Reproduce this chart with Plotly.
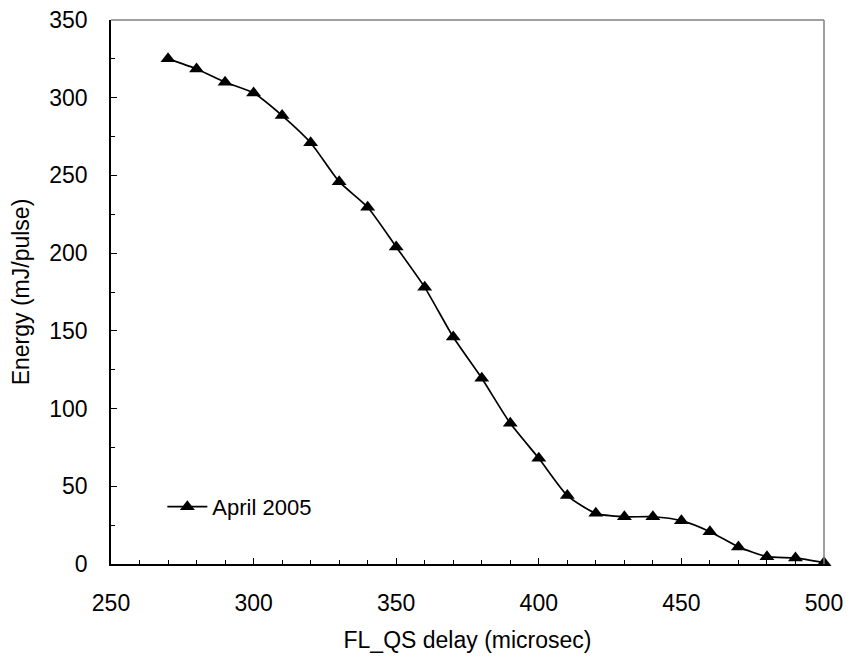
import plotly.graph_objects as go

# FL_QS delay (microseconds) and measured pulse energy (mJ/pulse)
delay_us = [270, 280, 290, 300, 310, 320, 330, 340, 350, 360, 370, 380,
            390, 400, 410, 420, 430, 440, 450, 460, 470, 480, 490, 500]
energy_mj = [325, 318.5, 310, 303, 288.5, 271, 246, 229.5, 204, 178, 146, 119.5,
             90.5, 68, 44, 32.6, 30.4, 30.4, 27.9, 20.8, 11, 4.7, 3.9, 0.8]

series_name = "April 2005"
font_family = "Liberation Sans, Arial, sans-serif"
fs = 23

fig = go.Figure()
fig.add_trace(go.Scatter(
    x=delay_us, y=energy_mj, name=series_name,
    mode="lines+markers",
    line=dict(color="black", width=1.7, shape="spline", smoothing=0.6),
    marker=dict(symbol="triangle-up", size=13, color="black"),
    cliponaxis=False,
))

axis_common = dict(
    showline=True, linecolor="black", linewidth=1.5,
    ticks="inside", ticklen=6, tickcolor="black", tickwidth=1,
    showgrid=False, zeroline=False, automargin=False,
    tickfont=dict(size=fs, color="black", family=font_family),
)

fig.update_xaxes(
    range=[250, 500], dtick=50, tick0=250,
    minor=dict(dtick=10, ticks="inside", ticklen=4, tickcolor="black"),
    title=dict(text="FL_QS delay (microsec)", font=dict(size=fs, color="black", family=font_family), standoff=17),
    ticklabelstandoff=18,
    **axis_common,
)
fig.update_yaxes(
    range=[0, 350], dtick=50, tick0=0,
    minor=dict(dtick=25, ticks="inside", ticklen=4, tickcolor="black"),
    title=dict(text="Energy (mJ/pulse)", font=dict(size=fs, color="black", family=font_family), standoff=13),
    ticklabelstandoff=17,
    **axis_common,
)

# thin grey frame along the top and right of the plotting area
fig.add_shape(type="line", xref="paper", yref="paper", x0=0, x1=1, y0=1, y1=1,
              line=dict(color="#808080", width=1.5))
fig.add_shape(type="line", xref="paper", yref="paper", x0=1, x1=1, y0=0, y1=1,
              line=dict(color="#808080", width=1.5))

fig.update_layout(
    width=851, height=659,
    margin=dict(l=111, r=27, t=20, b=95),
    plot_bgcolor="white", paper_bgcolor="white",
    font=dict(family=font_family, color="black"),
    showlegend=True,
    legend=dict(
        x=0.072, y=0.105, xanchor="left", yanchor="middle",
        bgcolor="rgba(0,0,0,0)",
        font=dict(size=fs - 1, color="black", family=font_family),
        itemwidth=40,
    ),
)

fig.write_html("out.html")
